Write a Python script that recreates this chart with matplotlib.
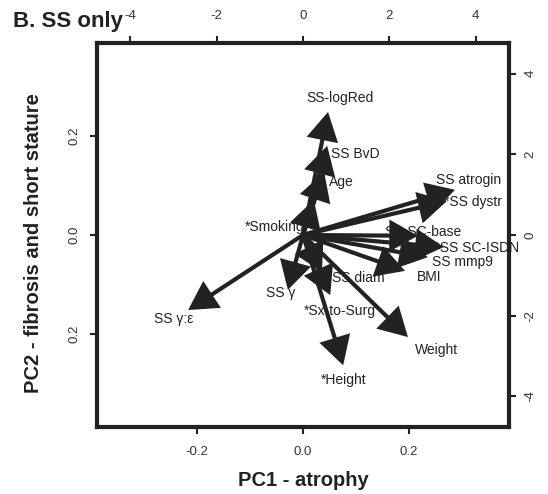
import matplotlib
matplotlib.use("Agg")
import matplotlib.pyplot as plt
from matplotlib.patches import FancyArrowPatch

plt.rcParams['font.family'] = ['Liberation Sans', 'DejaVu Sans']

# ---- data (loadings, in top/right axis units) ----
variables = ["SS-logRed", "SS BvD", "Age", "*Smoking", "SS atrogin", "*SS dystr",
             "SS SC-base", "**SS SC-ISDN", "SS mmp9", "BMI", "SS diam", "SS \u03b3",
             "*Sx-to-Surg", "SS \u03b3:\u03b5", "Weight", "*Height"]
load_x = [0.58, 0.56, 0.49, 0.25, 3.52, 3.33, 2.66, 3.26, 2.89, 2.36, 0.44, -0.35,
          0.63, -2.66, 2.43, 0.93]
load_y = [3.05, 2.21, 1.56, 0.87, 1.12, 0.84, -0.02, -0.30, -0.55, -0.89, -0.92, -1.36,
          -1.49, -1.86, -2.53, -3.23]

pc_ticks = [-0.2, 0.0, 0.2]
pc1_ticklabels = ["-0.2", "0.0", "0.2"]
pc2_ticklabels = ["0.2", "0.0", "0.2"]
load_ticks = [-4, -2, 0, 2, 4]
load_ticklabels = ["-4", "-2", "0", "2", "4"]

# label offsets (points) relative to arrow tips
label_offsets = [(8.6, 10.1), (20.2, -5.8), (12.2, -7.2), (-28.1, -19.4), (10.1, 7.2),
                 (18.7, -0.7), (3.6, 2.9), (21.6, -0.8), (25.2, -3.4), (17.3, -4.3),
                 (25.9, -4.3), (-5.0, -2.2), (7.2, -11.5), (-10.1, -6.5), (20.9, -9.4),
                 (0.0, -10.8)]

INK = "#222222"
TICKC = "#333333"

fig = plt.figure(figsize=(5.48, 4.94), dpi=100)
rect = [97/548, 67/494, 412/548, 384/494]
ax = fig.add_axes(rect)
ax.set_xlim(-0.389, 0.389)
ax.set_ylim(-0.389, 0.389)
for s in ax.spines.values():
    s.set_linewidth(3.0)
    s.set_color(INK)
ax.set_xticks(pc_ticks)
ax.set_xticklabels(pc1_ticklabels)
ax.set_yticks(pc_ticks)
ax.set_yticklabels(pc2_ticklabels, rotation=90, va='center')
ax.tick_params(axis='x', length=5, width=1.5, color=INK, labelsize=9.5, labelcolor=TICKC, pad=9)
ax.tick_params(axis='y', length=5, width=1.5, color=INK, labelsize=9.5, labelcolor=TICKC, pad=7)

ax2 = fig.add_axes(rect, frameon=False)
ax2.set_xlim(-4.77, 4.77)
ax2.set_ylim(-4.76, 4.76)
ax2.xaxis.tick_top()
ax2.yaxis.tick_right()
ax2.set_xticks(load_ticks)
ax2.set_xticklabels(load_ticklabels)
ax2.set_yticks(load_ticks)
ax2.set_yticklabels(load_ticklabels, rotation=90, va='center')
ax2.tick_params(axis='x', length=5, width=1.5, color=INK, labelsize=9.5, labelcolor=TICKC, pad=10)
ax2.tick_params(axis='y', length=5, width=1.5, color=INK, labelsize=9.5, labelcolor=TICKC, pad=6)

for name, x, y, off in zip(variables, load_x, load_y, label_offsets):
    arr = FancyArrowPatch((0, 0), (x, y), arrowstyle='-|>,head_length=16,head_width=9',
                          mutation_scale=1, linewidth=3.0, color=INK,
                          shrinkA=0, shrinkB=0, joinstyle='miter', capstyle='butt')
    ax2.add_patch(arr)
    ax2.annotate(name, xy=(x, y), xytext=off, textcoords='offset points',
                 ha='center', va='center', fontsize=10, color=INK, zorder=5,
                 annotation_clip=False)

fig.text(13/548, (494-27)/494, "B. SS only", fontsize=16, fontweight='bold',
         color=INK, ha='left', va='baseline')
fig.text(303/548, (494-486)/494, "PC1 - atrophy", fontsize=14.5, fontweight='bold',
         color=INK, ha='center', va='baseline')
fig.text(34/548, (494-243)/494, "PC2 - fibrosis and short stature", fontsize=14.5,
         fontweight='bold', color=INK, ha='center', va='center', rotation=90)

fig.savefig("out.png", dpi=100)
